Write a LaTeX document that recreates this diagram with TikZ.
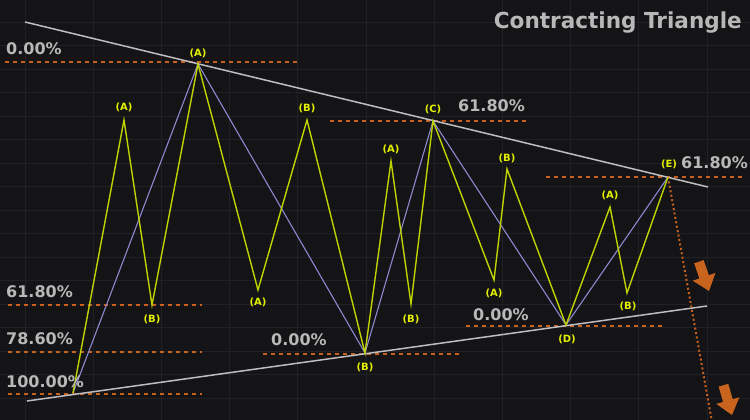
\documentclass[tikz,border=0pt]{standalone}
\usepackage{fontspec}
\setmainfont{DejaVu Sans}
\begin{document}
\begin{tikzpicture}[x=1pt,y=-1pt,
  trend/.style={draw=trendgray,line width=1.5pt},
  mainwave/.style={draw=wavepurple,line width=1.1pt,line join=miter},
  subwave/.style={draw=waveyellow,line width=1.4pt,line join=miter},
  fibline/.style={draw=fiborange,line width=1.2pt,dash pattern=on 4pt off 4pt},
  pct/.style={text=pctgray,font=\bfseries\fontsize{16}{16}\selectfont,inner sep=0pt,anchor=west},
  wlab/.style={text=labyellow,font=\bfseries\fontsize{10}{10}\selectfont,inner sep=0pt},
  gridline/.style={draw=gridgray,line width=0.8pt},
  bigarrow/.style={fill=arroworange,draw=none}]
\definecolor{bg}{HTML}{141416}
\definecolor{gridgray}{HTML}{202126}
\definecolor{trendgray}{HTML}{BDBDC2}
\definecolor{wavepurple}{HTML}{8C89D0}
\definecolor{waveyellow}{HTML}{BFD300}
\definecolor{labyellow}{HTML}{E2F000}
\definecolor{fiborange}{HTML}{C8601E}
\definecolor{pctgray}{HTML}{B8B8B8}
\definecolor{arroworange}{HTML}{C8641E}
\fill[bg] (0,0) rectangle (750,420);
\useasboundingbox (0,0) rectangle (750,420);
% grid
\foreach \i in {0,...,10} {\draw[gridline] (25+68.2*\i,0) -- (25+68.2*\i,420);}
\foreach \j in {0,...,17} {\draw[gridline] (0,22+23.5*\j) -- (750,22+23.5*\j);}
% title
\node[text=pctgray,font=\bfseries\fontsize{22}{22}\selectfont,inner sep=0pt,anchor=east] (title) at (742,23) {\scalebox{0.98}[1]{Contracting Triangle}};
% fib dashed lines
\coordinate (f1a) at (5,62);   \coordinate (f1b) at (298,62);
\coordinate (f2a) at (330,121); \coordinate (f2b) at (528,121);
\coordinate (f3a) at (546,177); \coordinate (f3b) at (744,177);
\coordinate (f4a) at (8,305);  \coordinate (f4b) at (202,305);
\coordinate (f5a) at (8,352);  \coordinate (f5b) at (202,352);
\coordinate (f6a) at (8,394);  \coordinate (f6b) at (202,394);
\coordinate (f7a) at (263,354); \coordinate (f7b) at (460,354);
\coordinate (f8a) at (466,326); \coordinate (f8b) at (663,326);
\foreach \k in {1,...,8} {\draw[fibline] (f\k a) -- (f\k b);}
% trendlines
\coordinate (ut1) at (25,22); \coordinate (ut2) at (708,187);
\coordinate (lt1) at (27,401); \coordinate (lt2) at (707,306);
\draw[trend] (ut1) -- (ut2);
\draw[trend] (lt1) -- (lt2);
% main points
\coordinate (P0) at (73,393);
\coordinate (PA) at (198,64);
\coordinate (PB) at (365,353);
\coordinate (PC) at (433,121);
\coordinate (PD) at (566,325);
\coordinate (PE) at (668,177);
% sub points
\coordinate (a1) at (124,120); \coordinate (b1) at (152,305);
\coordinate (a2) at (258,290); \coordinate (b2) at (307,120);
\coordinate (a3) at (391,161); \coordinate (b3) at (411,304);
\coordinate (a4) at (494,280); \coordinate (b4) at (507,169);
\coordinate (a5) at (610,207); \coordinate (b5) at (627,293);
% dotted breakout line
\coordinate (brk) at (712,422);
\draw[draw=fiborange,line width=2pt,dash pattern=on 2pt off 2.5pt] (PE) -- (brk);
% waves
\draw[mainwave] (P0) -- (PA) -- (PB) -- (PC) -- (PD) -- (PE);
\draw[subwave] (P0) -- (a1) -- (b1) -- (PA) -- (a2) -- (b2) -- (PB) -- (a3) -- (b3) -- (PC) -- (a4) -- (b4) -- (PD) -- (a5) -- (b5) -- (PE);
% main labels
\node[wlab] (lA) at (198,53) {(A)};
\node[wlab] (lB) at (365,367) {(B)};
\node[wlab] (lC) at (433,109) {(C)};
\node[wlab] (lD) at (567,339) {(D)};
\node[wlab] (lE) at (669,164) {(E)};
% sub labels
\node[wlab] (la1) at (124,107) {(A)};
\node[wlab] (lb1) at (152,319) {(B)};
\node[wlab] (la2) at (258,302) {(A)};
\node[wlab] (lb2) at (307,108) {(B)};
\node[wlab] (la3) at (391,149) {(A)};
\node[wlab] (lb3) at (411,319) {(B)};
\node[wlab] (la4) at (494,293) {(A)};
\node[wlab] (lb4) at (507,158) {(B)};
\node[wlab] (la5) at (610,195) {(A)};
\node[wlab] (lb5) at (628,306) {(B)};
% percent labels
\node[pct] (p1) at (6,49) {0.00\%};
\node[pct] (p2) at (458,106) {61.80\%};
\node[pct] (p3) at (681,163) {61.80\%};
\node[pct] (p4) at (6,292) {61.80\%};
\node[pct] (p5) at (6,339) {78.60\%};
\node[pct] (p6) at (6,382) {100.00\%};
\node[pct] (p7) at (271,340) {0.00\%};
\node[pct] (p8) at (473,315) {0.00\%};
% arrows
\begin{scope}[shift={(709,291)},rotate=19]
\fill[bigarrow] (0,0) -- (-12,-15) -- (-5,-15) -- (-5,-31) -- (5,-31) -- (5,-15) -- (12,-15) -- cycle;
\end{scope}
\begin{scope}[shift={(732,415)},rotate=16]
\fill[bigarrow] (0,0) -- (-12,-15) -- (-5,-15) -- (-5,-31) -- (5,-31) -- (5,-15) -- (12,-15) -- cycle;
\end{scope}
\end{tikzpicture}
\end{document}
